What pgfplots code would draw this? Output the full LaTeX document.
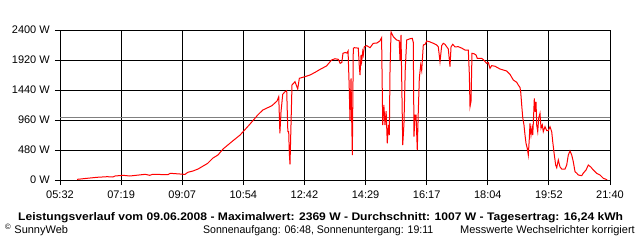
\documentclass[border=0pt]{standalone}
\usepackage{pgfplots}
\pgfplotsset{compat=1.18}
\usepackage{fontspec}
\setmainfont{Liberation Sans}
\begin{document}
\begin{tikzpicture}
\path[use as bounding box] (-60bp,-60bp) rectangle (580bp,180bp);
\begin{axis}[
  at={(0,0)}, anchor=south west,
  scale only axis, width=550bp, height=150bp,
  xmin=332, xmax=1300, ymin=0, ymax=2400,
  xtick={332,439.556,547.111,654.667,762.222,869.778,977.333,1084.889,1192.444,1300},
  xticklabels={05:32,07:19,09:07,10:54,12:42,14:29,16:17,18:04,19:52,21:40},
  minor x tick num=1,
  ytick={0,480,960,1440,1920,2400},
  yticklabels={0 W,480 W,960 W,1440 W,1920 W,2400 W},
  grid=both,
  major grid style={black, line width=1bp},
  minor grid style={black, line width=1bp},
  axis line style={black, line width=1bp},
  tick style={black, line width=1bp},
  tick align=outside,
  major tick length=5bp, minor tick length=5bp,
  xtick pos=bottom, ytick pos=left,
  ticklabel style={font=\fontsize{11bp}{13bp}\selectfont},
  xticklabel style={inner sep=0pt, yshift=-6bp},
  yticklabel style={inner sep=0pt, xshift=-5bp},
  clip=true,
]
\addplot[gray, line width=1bp] coordinates {(332,1007) (1300,1007)};
\addplot[red, line width=1bp] coordinates {
(362,10) (379.5,27) (397,43) (415,53) (425,48) (429,64) (443,75) (455,64)
(482,91) (490,75) (495,91) (522,85) (526,107) (552,90) (557,123) (566,144)
(575,176) (584,224) (592,267) (601,350) (610,400) (619,496) (636,625) (649,720)
(666,891) (680,1040) (689,1120) (705,1189) (714,1264) (717,1333) (719,747)
(721,1093) (724,1371) (728,1413) (731,1429) (733,773) (734.5,773) (735.6,427)
(736.8,251) (738.6,900) (740.3,1520) (745.6,1573) (748.6,1500) (750.4,1456)
(753.2,1627) (763,1653) (772,1680) (781,1723) (790,1771) (801,1824) (810,1920)
(816,1940) (822,1930) (825,1867) (828,1880) (830,2027) (834,2040) (837,2030)
(839,2064) (841,1493) (842.4,960) (844.2,1627) (845.4,960) (846.5,400)
(848.2,2107) (850,2117) (857,2110) (858.8,1813) (860,1680) (861.8,2000)
(863,1900) (864.8,2053) (865.8,2000) (867.6,2133) (871.8,2150) (877.6,2117)
(883.4,2187) (889.4,2190) (895,2224) (898,2277) (900,880) (902,1200) (904,880)
(906,1100) (908,587) (910,880) (911.6,720) (912.8,1733) (914.6,2369)
(918.6,2293) (924.6,2240) (929,2229) (930.4,1920) (932.2,2320) (935.2,560)
(937.4,907) (939.7,1787) (942.2,2240) (948,2260) (952,2267) (953.8,2200)
(955,693) (956.8,1040) (958.6,1040) (960.8,480) (962.6,1100) (964.4,1627)
(966.8,1840) (968.6,1750) (971.4,2160) (974.4,2170) (977.4,2224) (983,2210)
(989,2187) (995,2160) (997.8,2130) (1000.8,1893) (1003.8,2150) (1006.6,2187)
(1009.6,2170) (1015.4,2096) (1018.4,1813) (1020.2,2130) (1023.2,2171)
(1027.2,2130) (1033,2133) (1039,2110) (1044.8,2080) (1050.6,2080)
(1052.4,1700) (1053.6,1173) (1055.4,1260) (1057.1,2027) (1060.6,2020)
(1064.2,2000) (1066.4,1947) (1074.2,1947) (1077,1925) (1083,1867)
(1085.8,1880) (1088.8,1787) (1091.8,1830) (1097.6,1820) (1106.4,1776)
(1112.2,1760) (1118.2,1744) (1124,1690) (1129.8,1600) (1135.8,1563)
(1138.6,1520) (1141.6,1480) (1142.8,1413) (1144.6,1200) (1146.4,1000)
(1148.6,880) (1150.4,720) (1152.2,587) (1154.4,507) (1156.2,400) (1158,667)
(1159.2,907) (1161,720) (1162.7,830) (1164,720) (1165,907) (1166.8,1307)
(1168.5,1090) (1169.8,1250) (1171,880) (1172.8,773) (1174.5,990) (1176.8,1067)
(1178.6,827) (1180.9,880) (1182.6,773) (1185.6,853) (1188.6,790) (1191.4,790)
(1194.4,853) (1197.4,773) (1199.2,613) (1202,400) (1204.4,240) (1206.2,197)
(1209,320) (1212,210) (1215,176) (1220.8,176) (1223.8,240) (1226.6,400)
(1229.6,464) (1232.6,400) (1235.4,293) (1238.4,133) (1241.4,110) (1244.2,80)
(1250.2,69) (1253,110) (1257.8,160) (1261.8,240) (1266,210) (1270.6,160)
(1276.6,107) (1282.4,80) (1288.2,27) (1293,11) (1295,0)
};
\end{axis}
\node[anchor=base west, inner sep=0pt, font=\fontsize{11bp}{13bp}\selectfont\bfseries] at (-42bp,-40bp)
  {\scalebox{1.1}[1]{Leistungsverlauf vom 09.06.2008 - Maximalwert: 2369 W - Durchschnitt: 1007 W - Tagesertrag: 16,24 kWh}};
\node[anchor=base west, inner sep=0pt, font=\fontsize{11bp}{13bp}\selectfont] at (-55bp,-53bp) {\textsuperscript{\copyright} SunnyWeb};
\node[anchor=base west, inner sep=0pt, font=\fontsize{11bp}{13bp}\selectfont] at (143bp,-53bp) {\scalebox{0.96}[1]{Sonnenaufgang: 06:48, Sonnenuntergang: 19:11}};
\node[anchor=base east, inner sep=0pt, font=\fontsize{11bp}{13bp}\selectfont] at (575bp,-53bp) {Messwerte Wechselrichter korrigiert};
\end{tikzpicture}
\end{document}
